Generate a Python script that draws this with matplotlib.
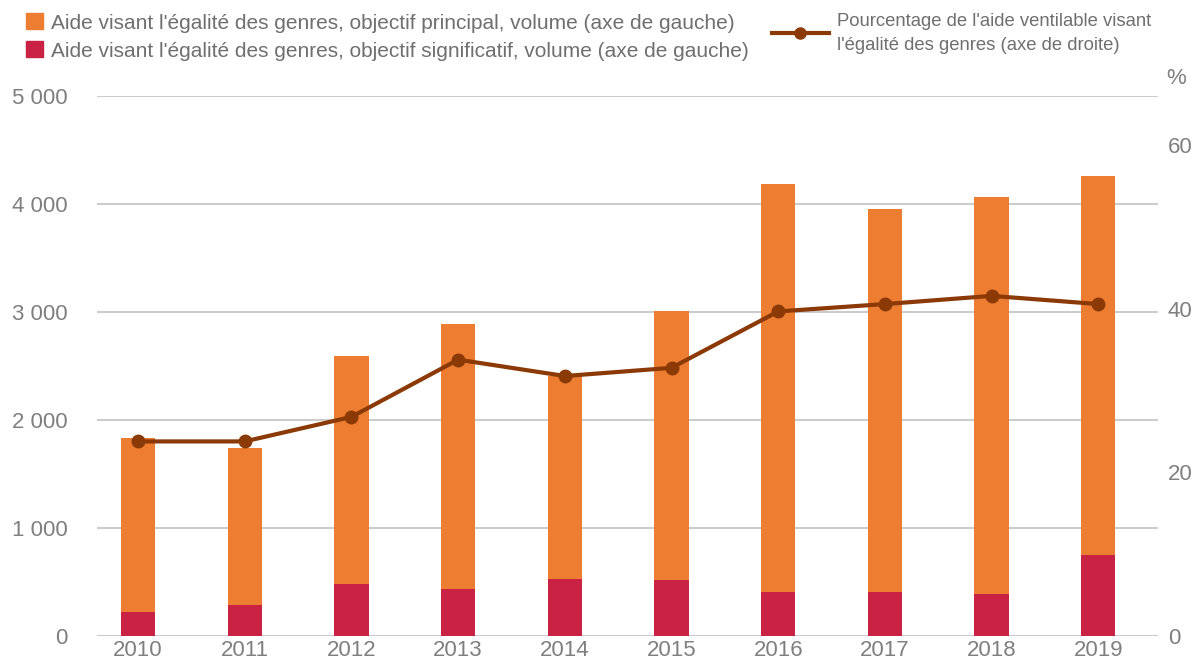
import numpy as np
import matplotlib.pyplot as plt
from matplotlib.patches import Patch
from matplotlib.lines import Line2D

plt.rcParams['font.family'] = ['Liberation Sans', 'DejaVu Sans']

years = ['2010', '2011', '2012', '2013', '2014', '2015', '2016', '2017', '2018', '2019']
total_vol = [1830, 1745, 2595, 2890, 2410, 3005, 4182, 3952, 4066, 4255]
significatif = [220, 290, 478, 436, 524, 522, 405, 405, 390, 750]
pct = [23.8, 23.8, 26.8, 33.8, 31.8, 32.8, 39.7, 40.6, 41.6, 40.6]

principal = [t - s for t, s in zip(total_vol, significatif)]

orange = '#ED7D31'
red = '#C92244'
brown = '#8B3A06'
txt = '#7f7f7f'

fig = plt.figure(figsize=(12.04, 6.69), dpi=100)
ax = fig.add_axes([97 / 1204, 1 - 636 / 669, (1158 - 97) / 1204, 540 / 669])
x = np.arange(len(years))
w = 0.32

ax.bar(x, significatif, w, color=red, zorder=2)
ax.bar(x, principal, w, bottom=significatif, color=orange, zorder=2)

ax.set_ylim(0, 5000)
ax.set_xlim(-0.385, 9.56)
ax.set_yticks(range(0, 5001, 1000))
ax.set_yticklabels(['0', '1 000', '2 000', '3 000', '4 000', '5 000'])
ax.set_xticks(x)
ax.set_xticklabels(years)
ax.grid(axis='y', color='#cccccc', linewidth=1.5, zorder=0)
for s in ax.spines.values():
    s.set_visible(False)
ax.tick_params(length=0, labelsize=16, colors=txt)
ax.tick_params(axis='x', pad=3)
ax.tick_params(axis='y', pad=21)

ax2 = ax.twinx()
ax2.plot(x, pct, color=brown, linewidth=3, marker='o', markersize=9, zorder=3)
ax2.set_ylim(0, 66.05)
ax2.set_yticks([0, 20, 40, 60])
for s in ax2.spines.values():
    s.set_visible(False)
ax2.tick_params(length=0, labelsize=16, colors=txt, pad=7)
fig.text(1176 / 1204, 1 - 78 / 669, '%', fontsize=16, color=txt, ha='center', va='center')

h1 = [Patch(color=orange), Patch(color=red)]
l1 = ["Aide visant l'égalité des genres, objectif principal, volume (axe de gauche)",
      "Aide visant l'égalité des genres, objectif significatif, volume (axe de gauche)"]
fig.legend(h1, l1, loc='upper left', bbox_to_anchor=(0.006, 1.008), frameon=False,
           fontsize=15, handlelength=0.8, handleheight=0.8, handletextpad=0.4,
           labelspacing=0.42, labelcolor='#6f6f6f')
h2 = [Line2D([], [], color=brown, linewidth=3, marker='o', markersize=8)]
l2 = ["Pourcentage de l'aide ventilable visant\nl'égalité des genres (axe de droite)"]
leg2 = fig.legend(h2, l2, loc='upper left', bbox_to_anchor=(0.627, 1.006), frameon=False,
                  fontsize=13.3, handlelength=3.1, handletextpad=0.45, labelcolor='#6f6f6f')
leg2.get_texts()[0].set_linespacing(1.55)

fig.savefig('out.png', dpi=100)
